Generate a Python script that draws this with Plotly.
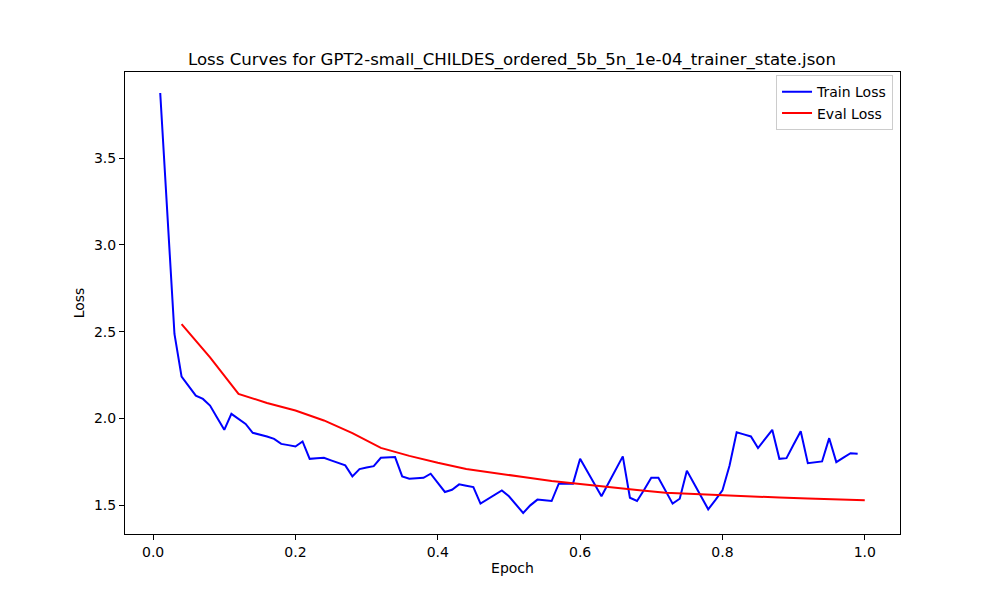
import plotly.graph_objects as go

# values
train_epoch = [round(0.01 * i, 2) for i in range(1, 100)]
train_loss = [
    3.875, 3.20, 2.487, 2.241, 2.188, 2.132, 2.113, 2.075, 2.005, 1.935,
    2.027, 1.998, 1.969, 1.918, 1.908, 1.897, 1.883, 1.854, 1.847, 1.839,
    1.868, 1.768, 1.772, 1.774, 1.759, 1.745, 1.730, 1.667, 1.709, 1.718,
    1.726, 1.774, 1.776, 1.778, 1.667, 1.653, 1.656, 1.659, 1.682, 1.630,
    1.577, 1.590, 1.621, 1.613, 1.605, 1.510, 1.535, 1.560, 1.586, 1.552,
    1.504, 1.456, 1.500, 1.533, 1.529, 1.525, 1.625, 1.625, 1.625, 1.768,
    1.695, 1.622, 1.552, 1.629, 1.705, 1.782, 1.544, 1.525, 1.590, 1.659,
    1.659, 1.585, 1.510, 1.538, 1.700, 1.626, 1.552, 1.477, 1.530, 1.586,
    1.730, 1.921, 1.909, 1.897, 1.830, 1.883, 1.935, 1.768, 1.772, 1.850,
    1.927, 1.743, 1.748, 1.753, 1.887, 1.749, 1.775, 1.800, 1.797,
]

eval_epoch = [round(0.04 * i, 2) for i in range(1, 26)]
eval_loss = [
    2.544, 2.352, 2.142, 2.090, 2.046, 1.989, 1.916, 1.831, 1.785, 1.745,
    1.710, 1.685, 1.663, 1.640, 1.622, 1.605, 1.588, 1.573, 1.566, 1.557,
    1.549, 1.545, 1.540, 1.535, 1.529,
]

title = "Loss Curves for GPT2-small_CHILDES_ordered_5b_5n_1e-04_trainer_state.json"
FONT = "DejaVu Sans"

fig = go.Figure()
fig.add_trace(go.Scatter(x=train_epoch, y=train_loss, mode="lines",
                         name="Train Loss", line=dict(color="blue", width=2)))
fig.add_trace(go.Scatter(x=eval_epoch, y=eval_loss, mode="lines",
                         name="Eval Loss", line=dict(color="red", width=2)))

axis_style = dict(
    showline=True, linecolor="black", linewidth=1, mirror=True,
    ticks="outside", ticklen=5, tickcolor="black", showgrid=False,
    zeroline=False, tickformat=".1f", automargin=False,
    tickfont=dict(family=FONT, size=14, color="black"),
)

fig.update_xaxes(range=[-0.0395, 1.0495], dtick=0.2,
                 title=dict(text="Epoch", font=dict(family=FONT, size=14, color="black"), standoff=4),
                 **axis_style)
fig.update_yaxes(range=[1.335, 3.996], tick0=1.5, dtick=0.5,
                 title=dict(text="Loss", font=dict(family=FONT, size=14, color="black"), standoff=6),
                 **axis_style)

# page body adds ~8px offset, so margins are shifted to compensate
fig.update_layout(
    width=1000, height=600,
    margin=dict(l=117, r=108, t=64, b=74),
    paper_bgcolor="white", plot_bgcolor="white",
    title=dict(text=title, x=0.504, xanchor="center", y=0.905, yanchor="bottom",
               font=dict(family=FONT, size=16.6, color="black")),
    legend=dict(x=0.991, xanchor="right", y=0.993, yanchor="top",
                bordercolor="#cccccc", borderwidth=1, bgcolor="white",
                font=dict(family=FONT, size=14, color="black")),
)

fig.write_html("out.html")
